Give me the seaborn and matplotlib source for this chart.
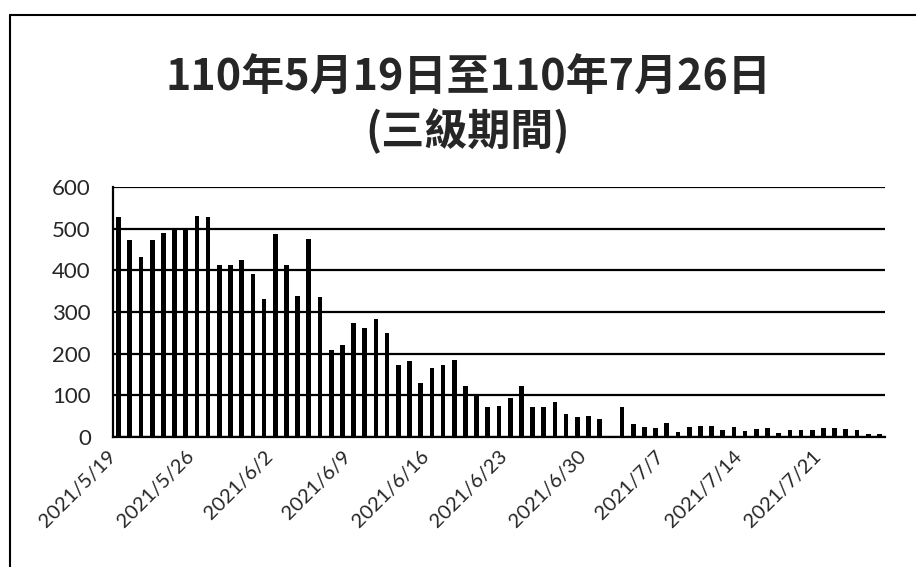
import pandas as pd
import matplotlib.pyplot as plt
import seaborn as sns
from matplotlib.lines import Line2D
from matplotlib.transforms import ScaledTranslation

# data
start_day, end_day = '2021-05-19', '2021-07-26'
cases = [528, 472, 431, 472, 489, 496, 499, 531, 528, 413,
         414, 424, 392, 332, 487, 414, 338, 476, 336, 209,
         220, 273, 262, 284, 249, 172, 183, 130, 165, 173,
         184, 123, 103, 73, 75, 94, 123, 72, 73, 83,
         55, 49, 51, 43, 0, 71, 31, 23, 21, 33,
         13, 25, 27, 27, 17, 23, 15, 19, 21, 9,
         17, 17, 17, 22, 22, 19, 17, 7, 7]
tick_labels = ['2021/5/19', '2021/5/26', '2021/6/2', '2021/6/9', '2021/6/16',
               '2021/6/23', '2021/6/30', '2021/7/7', '2021/7/14', '2021/7/21']
y_ticks = [0, 100, 200, 300, 400, 500, 600]
title_1 = '110年5月19日至110年7月26日'
title_2 = '(三級期間)'

days = pd.date_range(start_day, end_day)
df = pd.DataFrame({'date': [f'{d.year}/{d.month}/{d.day}' for d in days],
                   'cases': cases})

sns.set_style('white')
plt.rcParams['font.family'] = ['Noto Sans CJK TC', 'DejaVu Sans']

fig = plt.figure(figsize=(9.16, 5.67), dpi=100)
ax = fig.add_axes([113/916, 1-437/567, (885-113)/916, (437-187)/567])

sns.barplot(data=df, x='date', y='cases', color='black', saturation=1,
            width=0.42, edgecolor='black', linewidth=0, ax=ax)

ax.set_xlim(-0.5, len(df) - 0.5)
ax.set_ylim(0, 600)
ax.set_yticks(y_ticks)
ax.yaxis.grid(True, color='black', lw=1.6)
ax.set_xlabel('')
ax.set_ylabel('')

ax.set_xticks([i * 7 - 0.5 for i in range(len(tick_labels))])
ax.set_xticklabels(tick_labels, rotation=45, ha='right', va='center',
                   rotation_mode='anchor', fontsize=14.5, family='Lato')
shift = ScaledTranslation(5/72, 0, fig.dpi_scale_trans)
for lab in ax.get_xticklabels():
    lab.set_transform(lab.get_transform() + shift)
ax.tick_params(axis='x', direction='out', length=6, width=1.5, color='black', pad=6)
ax.tick_params(axis='y', direction='out', length=8, width=1.5, color='black',
               pad=8, labelsize=16)
for lab in ax.get_yticklabels():
    lab.set_family('Lato')

for s in ['top', 'right']:
    ax.spines[s].set_visible(False)
for s in ['left', 'bottom']:
    ax.spines[s].set_color('black')
    ax.spines[s].set_linewidth(1.6)

fig.text(0.511, 1-78/567, title_1, ha='center', va='center',
         fontsize=31, fontweight='bold')
fig.text(0.511, 1-131/567, title_2, ha='center', va='center',
         fontsize=31, fontweight='bold')

# outer frame of the scanned chart
fig.add_artist(Line2D([10/916, 10/916], [0, 1-15/567], color='black', lw=1.5))
fig.add_artist(Line2D([10/916, 1], [1-15/567, 1-15/567], color='black', lw=1.5))

fig.savefig('out.png', dpi=100)
